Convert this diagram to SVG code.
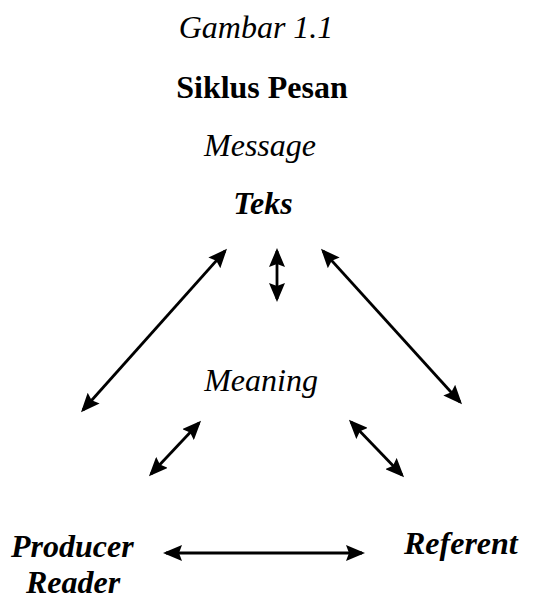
<svg xmlns="http://www.w3.org/2000/svg" width="545" height="611" viewBox="0 0 545 611">
<defs>
<style>
text{font-family:"Liberation Serif","Times New Roman",serif;font-size:32px;fill:#000}
.it{font-style:italic}
.bi{font-style:italic;font-weight:bold}
.b{font-weight:bold}
.c{text-anchor:middle}
.ln{stroke:#000;stroke-width:2.8;fill:none;marker-start:url(#ah);marker-end:url(#ah)}
</style>
<marker id="ah" markerUnits="userSpaceOnUse" markerWidth="19" markerHeight="16" viewBox="0 0 19 16" refX="16" refY="8" orient="auto-start-reverse">
<path d="M0,0 L19,8 L0,16 L3,8 Z" fill="#000"/>
</marker>
</defs>
<g id="title">
<text class="it c" x="256" y="38" font-size="34">Gambar 1.1</text>
<text class="b c" x="262" y="98">Siklus Pesan</text>
</g>
<g id="message"><text class="it c" x="260" y="156">Message</text></g>
<g id="teks"><text class="it c" x="263" y="214" font-weight="bold">Teks</text></g>
<g id="meaning"><text class="it c" x="261" y="391">Meaning</text></g>
<g id="producer">
<text class="bi" x="11" y="557">Producer</text>
<text class="bi" x="26" y="593">Reader</text>
</g>
<g id="referent"><text class="bi" x="404" y="554">Referent</text></g>
<g id="connectors">
<line class="ln" x1="83" y1="410" x2="225" y2="251"/>
<line class="ln" x1="277" y1="251" x2="277" y2="299"/>
<line class="ln" x1="323" y1="251" x2="460" y2="402"/>
<line class="ln" x1="151" y1="474" x2="199" y2="423"/>
<line class="ln" x1="351" y1="422" x2="402" y2="475"/>
<line class="ln" x1="166" y1="553" x2="362" y2="553"/>
</g>
</svg>
